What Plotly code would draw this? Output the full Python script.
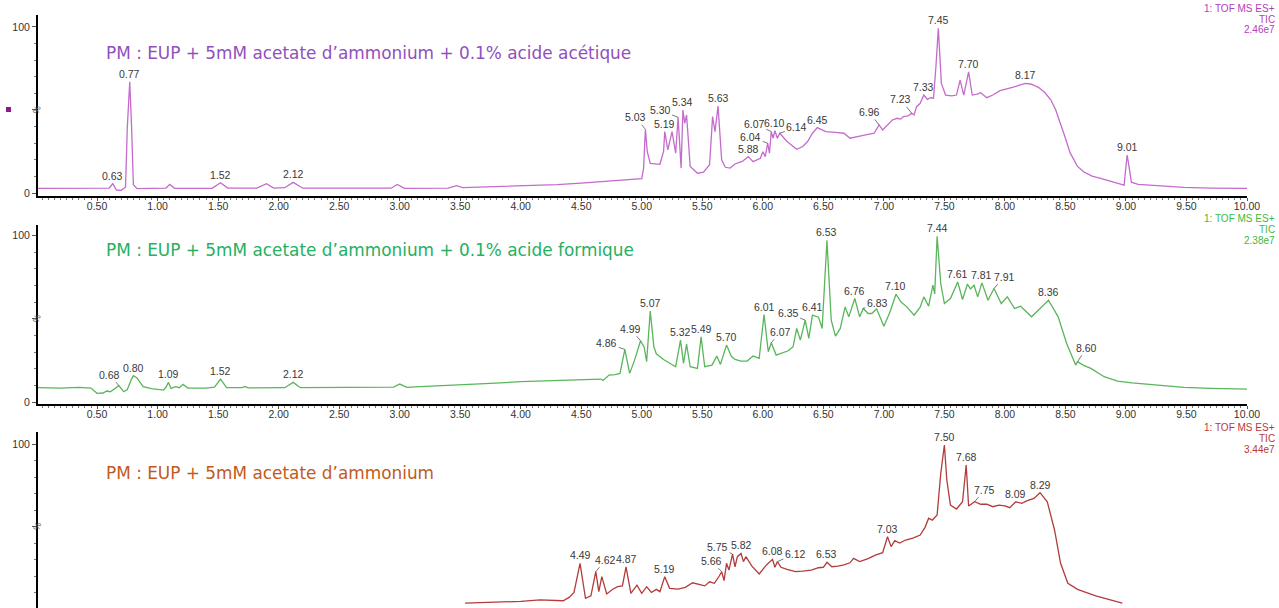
import numpy as np
import plotly.graph_objects as go

# ---------------- data: TIC chromatograms (retention time in min, relative intensity %) ----------------
rt_acetique = [0.00, 0.30, 0.55, 0.60, 0.63, 0.66, 0.70, 0.735, 0.75, 0.77, 0.785, 0.80, 0.83, 0.95,
               1.07, 1.10, 1.14, 1.45, 1.52, 1.58, 1.82, 1.90, 1.96, 2.05, 2.12, 2.20, 2.60, 2.93,
               2.98, 3.04, 3.40, 3.47, 3.52, 4.00, 4.30, 4.50, 4.70, 4.82, 4.90, 5.00, 5.015, 5.03,
               5.045, 5.07, 5.15, 5.18, 5.19, 5.215, 5.25, 5.28, 5.30, 5.325, 5.34, 5.355, 5.37,
               5.40, 5.46, 5.51, 5.56, 5.585, 5.605, 5.63, 5.66, 5.69, 5.73, 5.77, 5.83, 5.88, 5.92,
               5.98, 6.00, 6.02, 6.04, 6.055, 6.07, 6.085, 6.10, 6.12, 6.14, 6.20, 6.28, 6.33, 6.37,
               6.41, 6.45, 6.52, 6.60, 6.67, 6.72, 6.79, 6.85, 6.92, 6.96, 6.99, 7.03, 7.07, 7.11,
               7.14, 7.16, 7.20, 7.23, 7.25, 7.27, 7.30, 7.33, 7.36, 7.39, 7.41, 7.43, 7.45, 7.475,
               7.51, 7.56, 7.60, 7.63, 7.66, 7.70, 7.73, 7.77, 7.80, 7.85, 7.90, 7.96, 8.02, 8.07,
               8.12, 8.17, 8.22, 8.28, 8.33, 8.38, 8.42, 8.46, 8.50, 8.54, 8.60, 8.65, 8.72, 8.79,
               8.86, 8.93, 8.985, 9.00, 9.01, 9.025, 9.045, 9.10, 9.20, 9.35, 9.48, 9.70, 10.00]
pct_acetique = [2.8, 2.9, 2.7, 3.0, 5.6, 1.8, 1.6, 3.5, 40.0, 67.0, 40.0, 5.0, 2.6, 2.8,
                3.0, 5.2, 2.8, 2.8, 6.2, 3.0, 3.0, 5.6, 3.0, 3.2, 6.4, 2.9, 2.8, 2.9,
                5.2, 2.8, 3.0, 4.4, 3.3, 4.4, 5.0, 6.0, 7.0, 7.8, 8.2, 8.6, 15.0, 38.4,
                25.0, 17.9, 17.3, 25.0, 37.0, 26.0, 37.0, 24.0, 45.6, 15.0, 50.0, 42.0, 47.0,
                16.0, 11.9, 12.5, 17.0, 46.0, 37.0, 52.4, 20.0, 15.5, 15.0, 17.5, 19.0, 21.9, 18.9,
                20.9, 24.9, 21.9, 30.0, 24.0, 37.0, 33.0, 37.5, 33.0, 36.0, 31.0, 26.3, 28.0, 31.0,
                36.0, 39.4, 37.0, 36.5, 36.0, 33.0, 34.3, 35.0, 36.0, 41.0, 38.0, 41.0, 44.0, 45.0,
                44.5, 46.0, 46.5, 48.0, 47.0, 52.0, 54.0, 59.0, 56.4, 57.5, 57.0, 76.0, 99.2, 66.0,
                59.0, 58.5, 59.0, 68.0, 59.0, 73.0, 59.0, 59.5, 60.4, 57.4, 59.0, 61.6, 62.5, 63.7,
                65.0, 66.0, 65.5, 63.5, 60.5, 56.0, 50.0, 42.0, 33.0, 24.0, 16.0, 12.8, 10.2, 8.8,
                7.2, 5.8, 4.8, 16.0, 22.9, 16.0, 6.5, 5.2, 4.8, 4.0, 3.4, 3.0, 2.8]

rt_formique = [0.00, 0.20, 0.35, 0.45, 0.48, 0.50, 0.55, 0.58, 0.61, 0.65, 0.68, 0.72, 0.75, 0.78,
               0.80, 0.83, 0.88, 0.95, 1.05, 1.07, 1.09, 1.11, 1.15, 1.18, 1.21, 1.25, 1.40, 1.47,
               1.52, 1.57, 1.70, 1.72, 1.75, 2.05, 2.12, 2.18, 2.40, 2.70, 2.95, 3.00, 3.06, 3.17,
               3.50, 3.75, 4.00, 4.20, 4.41, 4.60, 4.66, 4.68, 4.73, 4.78, 4.82, 4.86, 4.90, 4.94,
               4.99, 5.02, 5.04, 5.07, 5.10, 5.12, 5.15, 5.18, 5.21, 5.25, 5.28, 5.32, 5.345, 5.37,
               5.40, 5.46, 5.49, 5.52, 5.58, 5.62, 5.65, 5.70, 5.74, 5.77, 5.82, 5.87, 5.92, 5.97,
               6.01, 6.045, 6.07, 6.11, 6.16, 6.21, 6.25, 6.28, 6.31, 6.35, 6.38, 6.41, 6.46, 6.49,
               6.53, 6.565, 6.60, 6.64, 6.68, 6.71, 6.76, 6.80, 6.83, 6.87, 6.90, 6.94, 7.00, 7.05,
               7.10, 7.14, 7.19, 7.25, 7.30, 7.33, 7.37, 7.405, 7.42, 7.44, 7.47, 7.50, 7.55, 7.61,
               7.65, 7.69, 7.715, 7.745, 7.775, 7.81, 7.86, 7.91, 7.97, 8.02, 8.08, 8.13, 8.22, 8.29,
               8.36, 8.44, 8.51, 8.585, 8.60, 8.65, 8.71, 8.82, 8.93, 9.05, 9.20, 9.35, 9.48, 9.70,
               10.00]
pct_formique = [8.6, 8.4, 8.8, 8.4, 6.5, 5.2, 5.4, 6.6, 6.2, 8.0, 9.8, 6.2, 7.5, 13.0,
                15.8, 14.5, 9.2, 8.0, 7.2, 9.0, 11.8, 8.2, 9.2, 8.6, 10.6, 8.4, 8.4, 9.0,
                13.8, 8.6, 8.6, 9.3, 8.5, 8.6, 11.8, 8.6, 8.8, 8.8, 9.0, 10.8, 8.8, 9.2,
                10.2, 11.2, 12.2, 12.8, 13.2, 13.8, 13.8, 13.0, 16.2, 16.5, 17.2, 31.6, 17.2, 25.0,
                36.8, 33.0, 24.2, 54.6, 33.2, 29.0, 27.2, 25.5, 24.2, 22.5, 21.2, 37.2, 23.2, 34.8,
                21.2, 20.2, 39.2, 21.2, 22.2, 27.6, 22.6, 34.2, 27.5, 25.6, 24.6, 24.6, 27.6, 26.2,
                52.6, 30.2, 35.6, 28.2, 29.6, 30.8, 33.2, 44.2, 37.2, 49.2, 38.2, 52.2, 51.0, 44.2,
                97.2, 49.2, 39.6, 44.2, 57.2, 51.2, 62.2, 51.2, 56.2, 53.2, 53.2, 56.0, 45.6, 54.0,
                64.8, 60.2, 57.2, 52.2, 57.0, 63.2, 57.6, 70.2, 65.0, 99.6, 71.2, 59.2, 62.2, 72.2,
                61.6, 70.8, 68.0, 70.2, 63.2, 71.6, 61.2, 68.2, 59.2, 63.2, 56.2, 57.6, 51.2, 56.0,
                61.2, 51.2, 35.2, 22.2, 24.2, 22.0, 20.2, 15.2, 12.6, 11.5, 10.6, 9.6, 8.8, 8.2,
                7.8]

rt_acetate = [3.54, 3.80, 4.00, 4.16, 4.35, 4.40, 4.44, 4.49, 4.535, 4.58, 4.62, 4.645, 4.67, 4.71,
              4.76, 4.80, 4.84, 4.87, 4.91, 4.96, 5.00, 5.04, 5.08, 5.12, 5.15, 5.19, 5.23, 5.30,
              5.36, 5.42, 5.48, 5.52, 5.56, 5.60, 5.64, 5.66, 5.68, 5.70, 5.72, 5.75, 5.77, 5.79,
              5.82, 5.84, 5.86, 5.91, 5.97, 6.03, 6.08, 6.10, 6.12, 6.15, 6.20, 6.27, 6.33, 6.40,
              6.46, 6.50, 6.53, 6.57, 6.62, 6.67, 6.72, 6.75, 6.80, 6.87, 6.93, 6.99, 7.03, 7.06,
              7.09, 7.13, 7.18, 7.24, 7.30, 7.34, 7.37, 7.40, 7.44, 7.47, 7.50, 7.52, 7.55, 7.60,
              7.65, 7.68, 7.70, 7.75, 7.80, 7.85, 7.90, 7.95, 8.00, 8.04, 8.09, 8.14, 8.18, 8.24,
              8.29, 8.35, 8.41, 8.46, 8.52, 8.60, 8.75, 8.88, 8.97]
pct_acetate = [3.6, 4.2, 4.6, 5.5, 5.0, 7.0, 10.0, 27.7, 6.5, 8.0, 22.6, 10.5, 19.6, 9.1,
               12.0, 13.5, 14.0, 25.6, 9.5, 14.5, 9.5, 13.5, 10.0, 11.9, 10.5, 19.6, 12.5, 12.0,
               13.1, 15.9, 14.5, 14.0, 16.5, 15.6, 20.0, 22.6, 17.2, 27.7, 23.6, 33.3, 25.6, 31.7,
               33.7, 28.7, 31.7, 26.0, 21.2, 26.7, 30.1, 25.3, 28.7, 25.3, 24.0, 22.6, 23.0, 23.6,
               25.0, 25.3, 28.3, 25.6, 26.0, 26.7, 28.0, 30.7, 28.7, 30.5, 32.7, 34.1, 43.8, 37.8,
               41.4, 40.0, 41.8, 43.0, 44.8, 49.5, 55.0, 53.9, 57.0, 82.2, 99.4, 78.2, 63.0, 60.6,
               65.0, 87.3, 62.4, 65.0, 63.5, 63.6, 62.0, 63.0, 62.5, 61.4, 65.0, 64.0, 65.5, 67.0,
               70.5, 65.0, 47.9, 27.7, 15.6, 11.9, 8.0, 5.5, 3.6]

# peak retention-time labels
labels_acetique = ["0.63", "0.77", "1.52", "2.12", "5.03", "5.19", "5.30", "5.34", "5.63", "5.88",
                   "6.04", "6.07", "6.10", "6.14", "6.45", "6.96", "7.23", "7.33", "7.45", "7.70",
                   "8.17", "9.01"]
labels_formique = ["0.68", "0.80", "1.09", "1.52", "2.12", "4.86", "4.99", "5.07", "5.32", "5.49",
                   "5.70", "6.01", "6.07", "6.35", "6.41", "6.53", "6.76", "6.83", "7.10", "7.44",
                   "7.61", "7.81", "7.91", "8.36", "8.60"]
labels_acetate = ["4.49", "4.62", "4.87", "5.19", "5.66", "5.75", "5.82", "6.08", "6.12", "6.53",
                  "7.03", "7.50", "7.68", "7.75", "8.09", "8.29"]

titles = ["PM : EUP + 5mM acetate d\u2019ammonium + 0.1% acide acétique",
          "PM : EUP + 5mM acetate d\u2019ammonium + 0.1% acide formique",
          "PM : EUP + 5mM acetate d\u2019ammonium"]
tic_max = ["2.46e7", "2.38e7", "3.44e7"]
x_ticks = [0.5 * k for k in range(1, 21)]

# ---------------- styling / layout ----------------
W, H = 1279, 608
LINE_COLORS = ["#C46BCB", "#5AB55C", "#B23B3B"]
TITLE_COLORS = ["#9150BC", "#25B062", "#C25A1C"]
INFO_COLORS = ["#B040B8", "#3FB840", "#B53838"]
LABEL_FONT = dict(family="Liberation Sans, Arial, sans-serif", size=10.5, color="#383838")
TICK_FONT = dict(family="Liberation Sans, Arial, sans-serif", size=10.5, color="#333333")

# leader-line label offsets (px, label centre relative to the peak apex)
leader_offsets = [
    {"5.03": (-10, -12), "5.30": (-18, -7), "6.04": (-17, -6), "6.07": (-17, -8),
     "6.14": (17, -6), "6.96": (-10, -13), "7.23": (-11, -14)},
    {"0.68": (-9, -11), "4.86": (-18, -6), "4.99": (-10, -12), "6.07": (9, -11),
     "6.35": (-17, -7), "6.83": (14, -6), "7.91": (10, -12), "8.60": (9, -14)},
    {"4.62": (10, -12), "5.66": (-10, -11), "5.75": (-15, -7), "6.12": (18, -8),
     "7.75": (10, -12)},
]

def pxx(p):
    return p / W

def pxy(p):
    return 1 - p / H

# panels: (top px of y-axis, bottom px, y range)
panels = [
    (15, 196, [-1.8, 107.2]),
    (225, 404, [-1.2, 106.4]),
    (432, 608, [0.6, 107.3]),
]
series = [(rt_acetique, pct_acetique, labels_acetique),
          (rt_formique, pct_formique, labels_formique),
          (rt_acetate, pct_acetate, labels_acetate)]

fig = go.Figure()
annotations = []
x_dom = [pxx(38), pxx(1247)]

for i, ((rt, pct, labs), (ptop, pbot, yr)) in enumerate(zip(series, panels)):
    n = "" if i == 0 else str(i + 1)
    xa, ya = "x" + n, "y" + n
    fig.add_trace(go.Scatter(x=rt, y=pct, mode="lines", xaxis=xa, yaxis=ya,
                             line=dict(color=LINE_COLORS[i], width=1.3),
                             showlegend=False, hoverinfo="x+y"))

    fig.layout["xaxis" + n] = dict(
        domain=x_dom, range=[0.012, 10.0], anchor=ya, visible=(i < 2), automargin=False,
        showline=True, linecolor="black", linewidth=2, showgrid=False, zeroline=False,
        tickvals=x_ticks, tickformat=".2f", ticks="outside", ticklen=3, tickwidth=1,
        tickcolor="#555555", tickfont=TICK_FONT, ticklabelstandoff=-4,
        minor=dict(dtick=0.05, ticks="outside", ticklen=2, tickwidth=1, tickcolor="#777777"),
    )
    fig.layout["yaxis" + n] = dict(
        domain=[pxy(pbot), pxy(ptop)], range=yr, anchor=xa, automargin=False,
        showline=True, linecolor="black", linewidth=2, showgrid=False, zeroline=False,
        tickvals=[0, 50, 100], ticktext=["0", "", "100"], ticks="outside", ticklen=4,
        tickwidth=1, tickcolor="#555555", tickfont=TICK_FONT,
        minor=dict(dtick=10, ticks="outside", ticklen=2, tickwidth=1, tickcolor="#777777"),
    )

    # "%" marker next to the 50 tick
    annotations.append(dict(xref="paper", yref=ya, x=pxx(28), y=50, text="%",
                            showarrow=False, textangle=-70,
                            font=dict(family="Liberation Sans, Arial", size=9, color="#666666")))

    # panel title
    title_y = [53, 250, 473][i]
    annotations.append(dict(xref="paper", yref="paper", x=pxx(104), y=pxy(title_y),
                            xanchor="left", yanchor="middle", text=titles[i], showarrow=False,
                            font=dict(family="DejaVu Sans, Verdana, sans-serif", size=16.9,
                                      color=TITLE_COLORS[i])))

    # acquisition info, top right
    info_top = [8, 218, 427][i]
    for k, txt in enumerate(["1: TOF MS ES+", "TIC", tic_max[i]]):
        annotations.append(dict(xref="paper", yref="paper", x=pxx(1277),
                                y=pxy(info_top + 11 * k), xanchor="right", yanchor="middle",
                                text=txt, showarrow=False,
                                font=dict(family="Liberation Sans, Arial", size=10,
                                          color=INFO_COLORS[i])))

    # peak labels
    for lab in labs:
        t = float(lab)
        v = float(np.interp(t, rt, pct))
        if lab in leader_offsets[i]:
            dx, dy = leader_offsets[i][lab]
            annotations.append(dict(xref=xa, yref=ya, x=t, y=v, text=lab, showarrow=True,
                                    ax=dx, ay=dy, arrowhead=0, arrowwidth=0.8,
                                    arrowcolor="#555555", standoff=0, font=LABEL_FONT))
        else:
            annotations.append(dict(xref=xa, yref=ya, x=t, y=v, text=lab, showarrow=False,
                                    xanchor="center", yanchor="bottom", yshift=0,
                                    font=LABEL_FONT))

# small trace-colour marker of the first chromatogram
fig.add_shape(type="rect", xref="paper", yref="paper",
              x0=pxx(6), x1=pxx(11), y0=pxy(112), y1=pxy(107),
              fillcolor="#8B1A8B", line=dict(width=0))

fig.update_layout(width=W, height=H, margin=dict(l=0, r=0, t=0, b=0),
                  paper_bgcolor="white", plot_bgcolor="white",
                  annotations=annotations)

fig.write_html("out.html")
